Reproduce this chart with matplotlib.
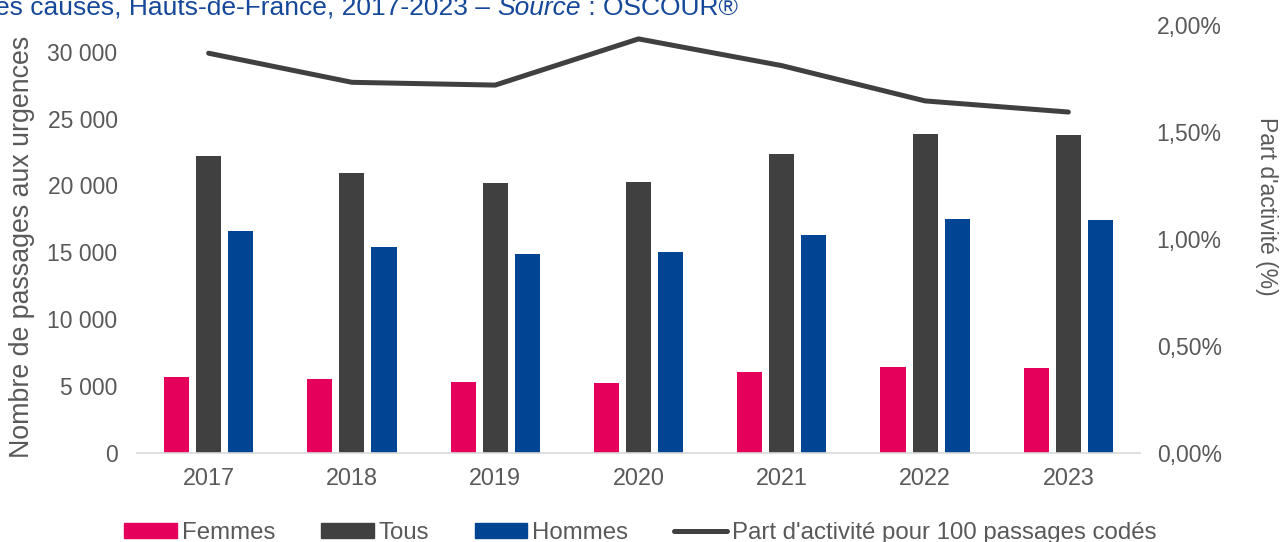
import numpy as np
import matplotlib
matplotlib.use("Agg")
import matplotlib.pyplot as plt
from matplotlib.ticker import FuncFormatter, FixedLocator
from matplotlib.patches import Patch
from matplotlib.lines import Line2D

plt.rcParams['font.family'] = ['Liberation Sans', 'DejaVu Sans']

years = ["2017", "2018", "2019", "2020", "2021", "2022", "2023"]
femmes = [5640, 5510, 5290, 5240, 6020, 6390, 6340]
tous = [22200, 20930, 20150, 20250, 22320, 23840, 23750]
hommes = [16590, 15390, 14840, 14990, 16290, 17460, 17390]
part_activite = [1.868, 1.732, 1.719, 1.935, 1.810, 1.645, 1.593]

c_femmes = "#E4005B"
c_tous = "#404040"
c_hommes = "#004494"
c_text = "#595959"
c_title = "#16489A"

W, H = 1280, 542
fig = plt.figure(figsize=(W / 100, H / 100), dpi=100)
ax = fig.add_axes([137 / W, 1 - 452.7 / H, 1003 / W, 427.7 / H])
ax2 = ax.twinx()

x = np.arange(len(years))
bw = 0.175
off = 0.224
ax.bar(x - off, femmes, bw, color=c_femmes)
ax.bar(x, tous, bw, color=c_tous)
ax.bar(x + off, hommes, bw, color=c_hommes)

ax2.plot(x, part_activite, color=c_tous, lw=3.6, solid_capstyle='round', solid_joinstyle='round')

ax.set_xlim(-0.5, len(years) - 0.5)
ax.set_ylim(0, 32000)
ax2.set_ylim(0, 2.0)

ax.yaxis.set_major_locator(FixedLocator(np.arange(0, 30001, 5000)))
ax.yaxis.set_major_formatter(FuncFormatter(lambda v, p: f"{int(v):,}".replace(",", " ")))
ax2.yaxis.set_major_locator(FixedLocator([0, 0.5, 1.0, 1.5, 2.0]))
ax2.yaxis.set_major_formatter(FuncFormatter(lambda v, p: f"{v:.2f}%".replace(".", ",")))

ax.set_xticks(x)
ax.set_xticklabels(years)

for a in (ax, ax2):
    for s in a.spines.values():
        s.set_visible(False)
ax.spines['bottom'].set_visible(True)
ax.spines['bottom'].set_color("#D9D9D9")
ax.spines['bottom'].set_linewidth(1.2)

ax.tick_params(axis='x', length=0, pad=10.5, labelsize=16.8, labelcolor=c_text)
ax.tick_params(axis='y', length=0, pad=14, labelsize=16.5, labelcolor=c_text)
ax2.tick_params(axis='y', length=0, pad=12, labelsize=16.5, labelcolor=c_text)

ax.set_ylabel("Nombre de passages aux urgences", fontsize=19.3, color=c_text, va='center')
ax.yaxis.set_label_coords(-0.1147, 0.481)
ax2.set_ylabel("Part d'activité (%)", fontsize=16.5, color=c_text, rotation=270, va='center')
ax2.yaxis.set_label_coords(1.1266, 0.577)

# titre coupé en haut, avec "Source" en italique
t1 = fig.text(-5 / W, 1 - 15 / H, "es causes, Hauts-de-France, 2017-2023 – ",
              fontsize=19, color=c_title, va='baseline', ha='left')
t2 = fig.text(0, 0, "Source", fontsize=19, color=c_title, style='italic')
t3 = fig.text(0, 0, " : OSCOUR®", fontsize=19, color=c_title)
fig.canvas.draw()
r = fig.canvas.get_renderer()
bb1 = t1.get_window_extent(r)
t2.set_position((bb1.x1 / W, 1 - 15 / H))
t2.set_va('baseline')
fig.canvas.draw()
bb2 = t2.get_window_extent(r)
t3.set_position((bb2.x1 / W, 1 - 15 / H))
t3.set_va('baseline')

handles = [Patch(color=c_femmes), Patch(color=c_tous), Patch(color=c_hommes),
           Line2D([], [], color=c_tous, lw=3.6, solid_capstyle='round')]
labels = ["Femmes", "Tous", "Hommes", "Part d'activité pour 100 passages codés"]
fig.legend(handles, labels, loc='center', bbox_to_anchor=(0.5, 1 - 533 / H), ncol=4,
           frameon=False, fontsize=17.3, labelcolor=c_text, handlelength=2.2,
           handleheight=0.55, handletextpad=0.2, columnspacing=1.9)

fig.savefig("out.png", dpi=100)
